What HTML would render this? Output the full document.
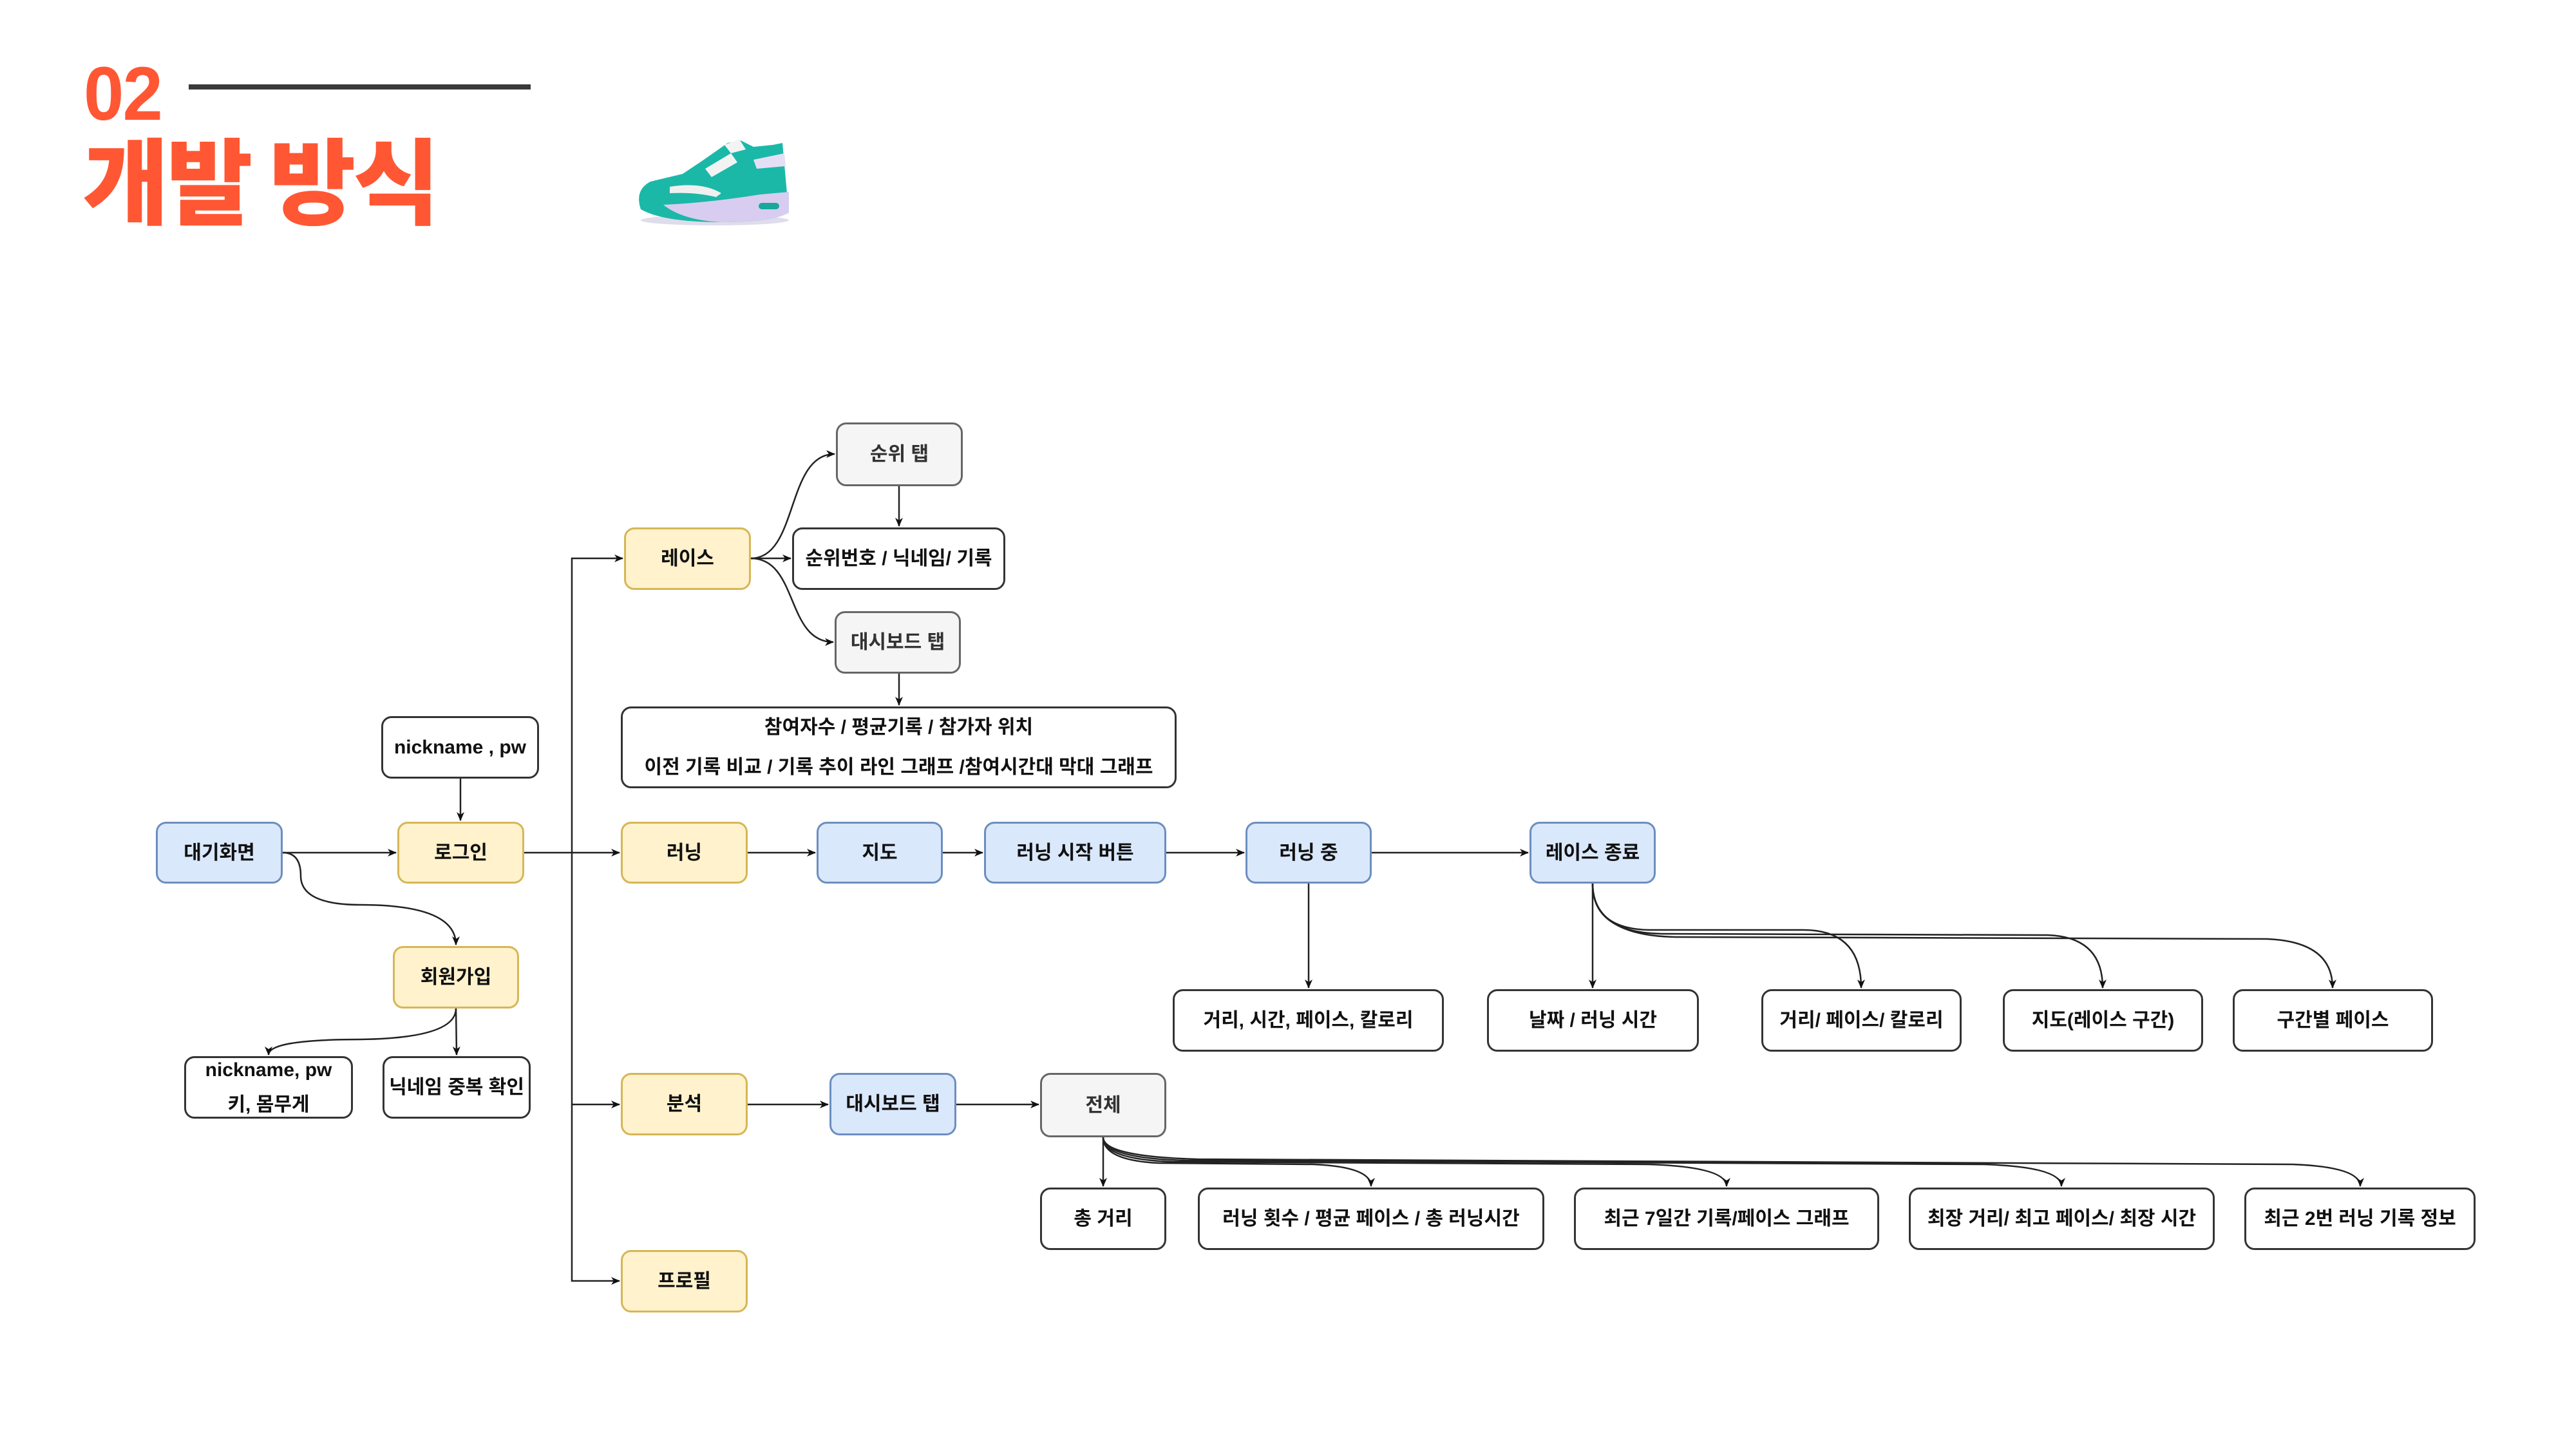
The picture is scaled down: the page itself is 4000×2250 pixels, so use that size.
<!DOCTYPE html>
<html><head><meta charset="utf-8">
<style>
html,body{margin:0;padding:0;background:#fff;}
body{width:4000px;height:2250px;position:relative;overflow:hidden;font-family:"Liberation Sans","Noto Sans CJK KR",sans-serif;}
.b{position:absolute;box-sizing:border-box;border:3px solid #333;border-radius:16px;display:flex;align-items:center;justify-content:center;text-align:center;font-weight:bold;font-size:30px;color:#111;background:#fff;line-height:1.9;}
.bl{background:#dae8fc;border-color:#6c8ebf;}
.ye{background:#fff2cc;border-color:#d6b656;}
.gr{background:#f5f5f5;border-color:#666;color:#333;}
svg{position:absolute;left:0;top:0;}
</style></head><body>
<div style="position:absolute;left:130px;top:78px;font-size:118px;font-weight:900;color:#ff5733;font-family:'Liberation Sans',sans-serif;letter-spacing:-2px;transform:scaleX(0.95);transform-origin:left;">02</div>
<div style="position:absolute;left:293px;top:131px;width:531px;height:8px;background:#3a3a3a;"></div>
<div style="position:absolute;left:128px;top:195px;font-size:146px;font-weight:900;color:#ff5733;font-family:'Noto Sans CJK KR',sans-serif;letter-spacing:-4px;line-height:1.1;">개발 방식</div>

<svg width="4000" height="2250" viewBox="0 0 4000 2250">
<defs>
<marker id="m" markerWidth="14" markerHeight="14" refX="13" refY="7" orient="auto" markerUnits="userSpaceOnUse" viewBox="0 0 14 14"><path d="M0,1 L14,7 L0,13 L4,7 z" fill="#111"/></marker></defs>
<!-- shoe -->
<g>
<ellipse cx="1110" cy="342" rx="115" ry="8" fill="#c9c4e0" opacity="0.6"/>
<path d="M995,325 Q985,295 1010,282 L1060,270 L1090,250 L1130,222 L1150,218 L1170,228 L1200,225 L1215,222 L1222,300 L1225,330 Q1200,345 1120,345 Q1030,345 995,325z" fill="#1bb8a8"/>
<path d="M1030,318 Q1100,315 1180,302 L1225,298 L1225,330 Q1200,345 1120,345 Q1060,342 1030,318z" fill="#d8cdf0"/>
<rect x="1178" y="315" width="32" height="10" rx="5" fill="#17a89b"/>
<path d="M1040,290 Q1090,282 1120,300 L1112,306 Q1080,298 1040,300z" fill="#f0f0f0"/>
<path d="M1095,262 L1135,238 L1145,252 L1105,275z" fill="#f3f3f3"/>
<path d="M1170,248 L1218,238 L1220,258 L1175,262z" fill="#e4dff5"/>
<path d="M1125,225 L1148,216 L1158,232 L1135,238z" fill="#f3f3f3"/>
</g>
<g fill="none" stroke="#222" stroke-width="2.5">
<path d="M439,1324 L615,1324" marker-end="url(#m)"/>
<path d="M814,1324 L962,1324" marker-end="url(#m)"/>
<path d="M1161,1324 L1266,1324" marker-end="url(#m)"/>
<path d="M1464,1324 L1526,1324" marker-end="url(#m)"/>
<path d="M1811,1324 L1932,1324" marker-end="url(#m)"/>
<path d="M2130,1324 L2373,1324" marker-end="url(#m)"/>
<path d="M1161,1715 L1286,1715" marker-end="url(#m)"/>
<path d="M1485,1715 L1613,1715" marker-end="url(#m)"/>
<path d="M888,1324 L888,867 L967,867" marker-end="url(#m)"/>
<path d="M888,1324 L888,1989 L962,1989" marker-end="url(#m)"/>
<path d="M888,1715 L962,1715" marker-end="url(#m)"/>
<path d="M715,1209 L715,1274" marker-end="url(#m)"/>
<path d="M439,1324 Q467,1324 467,1360 Q467,1405 560,1405 Q708,1405 708,1467" marker-end="url(#m)"/>
<path d="M708,1566 Q708,1612 560,1614 Q417,1614 417,1638" marker-end="url(#m)"/>
<path d="M708,1566 L709,1638" marker-end="url(#m)"/>
<path d="M1166,867 C1240,867 1220,705 1296,705" marker-end="url(#m)"/>
<path d="M1166,867 L1228,867" marker-end="url(#m)"/>
<path d="M1166,867 C1240,867 1220,997 1294,997" marker-end="url(#m)"/>
<path d="M1396,755 L1396,817" marker-end="url(#m)"/>
<path d="M1396,1046 L1396,1095" marker-end="url(#m)"/>
<path d="M2032,1372 L2032,1534" marker-end="url(#m)"/>
<path d="M2473,1372 L2473,1534" marker-end="url(#m)"/>
<path d="M2473,1372 Q2473,1442 2560,1444 L2800,1444 Q2890,1444 2890,1534" marker-end="url(#m)"/>
<path d="M2473,1372 Q2473,1448 2580,1450 L3180,1452 Q3265,1455 3265,1534" marker-end="url(#m)"/>
<path d="M2473,1372 Q2473,1452 2600,1455 L3520,1458 Q3622,1462 3622,1534" marker-end="url(#m)"/>
<path d="M1713,1766 L1713,1842" marker-end="url(#m)"/>
<path d="M1713,1766 Q1713,1802 1800,1806 L2040,1808 Q2129,1812 2129,1842" marker-end="url(#m)"/>
<path d="M1713,1766 Q1713,1800 1820,1804 L2560,1808 Q2681,1812 2681,1842" marker-end="url(#m)"/>
<path d="M1713,1766 Q1713,1798 1840,1802 L3080,1808 Q3201,1812 3201,1842" marker-end="url(#m)"/>
<path d="M1713,1766 Q1713,1796 1860,1800 L3560,1808 Q3665,1812 3665,1842" marker-end="url(#m)"/>
</g>
</svg>

<div class="b bl" style="left:242px;top:1276px;width:197px;height:96px;">대기화면</div>
<div class="b ye" style="left:617px;top:1276px;width:197px;height:96px;">로그인</div>
<div class="b" style="left:592px;top:1112px;width:245px;height:97px;">nickname , pw</div>
<div class="b ye" style="left:610px;top:1469px;width:196px;height:97px;">회원가입</div>
<div class="b" style="left:286px;top:1640px;width:262px;height:97px;line-height:1.8;">nickname, pw<br>키, 몸무게</div>
<div class="b" style="left:594px;top:1640px;width:230px;height:97px;">닉네임 중복 확인</div>

<div class="b ye" style="left:969px;top:819px;width:197px;height:97px;">레이스</div>
<div class="b gr" style="left:1298px;top:656px;width:197px;height:99px;">순위 탭</div>
<div class="b" style="left:1230px;top:819px;width:331px;height:97px;">순위번호 / 닉네임/ 기록</div>
<div class="b gr" style="left:1296px;top:949px;width:196px;height:97px;">대시보드 탭</div>
<div class="b" style="left:964px;top:1097px;width:863px;height:127px;line-height:2.05;">참여자수 / 평균기록 / 참가자 위치<br>이전 기록 비교 / 기록 추이 라인 그래프 /참여시간대 막대 그래프</div>

<div class="b ye" style="left:964px;top:1276px;width:197px;height:96px;">러닝</div>
<div class="b bl" style="left:1268px;top:1276px;width:196px;height:96px;">지도</div>
<div class="b bl" style="left:1528px;top:1276px;width:283px;height:96px;">러닝 시작 버튼</div>
<div class="b bl" style="left:1934px;top:1276px;width:196px;height:96px;">러닝 중</div>
<div class="b bl" style="left:2375px;top:1276px;width:196px;height:96px;">레이스 종료</div>

<div class="b" style="left:1821px;top:1536px;width:421px;height:97px;">거리, 시간, 페이스, 칼로리</div>
<div class="b" style="left:2309px;top:1536px;width:329px;height:97px;">날짜 / 러닝 시간</div>
<div class="b" style="left:2735px;top:1536px;width:311px;height:97px;">거리/ 페이스/ 칼로리</div>
<div class="b" style="left:3110px;top:1536px;width:311px;height:97px;">지도(레이스 구간)</div>
<div class="b" style="left:3467px;top:1536px;width:311px;height:97px;">구간별 페이스</div>

<div class="b ye" style="left:964px;top:1666px;width:197px;height:97px;">분석</div>
<div class="b bl" style="left:1288px;top:1666px;width:197px;height:97px;">대시보드 탭</div>
<div class="b gr" style="left:1615px;top:1666px;width:196px;height:100px;">전체</div>

<div class="b" style="left:1615px;top:1844px;width:196px;height:97px;">총 거리</div>
<div class="b" style="left:1860px;top:1844px;width:538px;height:97px;">러닝 횟수 / 평균 페이스 / 총 러닝시간</div>
<div class="b" style="left:2444px;top:1844px;width:474px;height:97px;">최근 7일간 기록/페이스 그래프</div>
<div class="b" style="left:2964px;top:1844px;width:475px;height:97px;">최장 거리/ 최고 페이스/ 최장 시간</div>
<div class="b" style="left:3485px;top:1844px;width:359px;height:97px;">최근 2번 러닝 기록 정보</div>

<div class="b ye" style="left:964px;top:1941px;width:197px;height:97px;">프로필</div>
</body></html>
